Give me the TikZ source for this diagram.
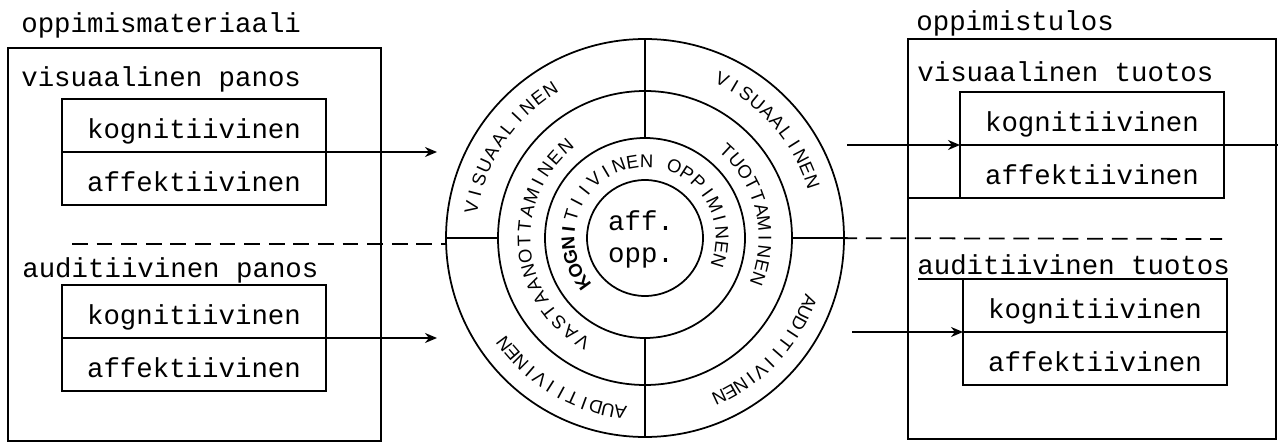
\documentclass[tikz,border=0pt]{standalone}
\usepackage{fontspec}
\usepackage{tikz}
\usetikzlibrary{arrows.meta,calc,positioning}
\newfontfamily\typew{Liberation Mono}
\newfontfamily\ringfam{Liberation Sans}
% letters set round (O), read clockwise, tops outward:
% first angle, angle step, radius, letters
\newcommand{\ringword}[4]{%
  \foreach \ch [count=\i from 0] in {#4}
    \node[ringch,rotate=#1-\i*#2-90] at ($(O)+(#1-\i*#2:#3)$) {\ch};}
\tikzset{
  frame/.style={draw,line width=1.1pt},
  cell/.style={frame,outer sep=0pt,inner sep=0pt,minimum width=5.28cm,minimum height=1.06cm,
    text height=15pt,text depth=0pt,font=\typew\fontsize{15.6}{18}\selectfont},
  head/.style={anchor=base west,inner sep=0pt,font=\typew\fontsize{15.6}{18}\selectfont},
  ringch/.style={inner sep=0pt,font=\ringfam\fontsize{10.5}{12}\selectfont},
  ring/.style={line width=1pt},
  flow/.style={line width=1pt,-{Stealth[length=2.4mm,width=2mm]}},
  sep/.style={line width=1pt,dash pattern=on 9pt off 5pt},
}
\begin{document}
\begin{tikzpicture}[x=0.02cm,y=0.02cm]
  \useasboundingbox (0,0) rectangle (1278,-442);
  % learning material (left)
  \node[frame,anchor=north west,minimum width=7.46cm,minimum height=7.86cm] (matBox) at (7,-47) {};
  \node[head] (matTitle) at (21,-33) {oppimismateriaali};
  \node[head] (visIn) at (21,-87) {visuaalinen panos};
  \node[head] (audIn) at (22,-277) {auditiivinen panos};
  \node[cell,anchor=south west] (kogVI) at (62,-152) {kognitiivinen};
  \node[cell,below=0pt of kogVI] (affVI) {affektiivinen};
  \node[cell,anchor=south west] (kogAI) at (62,-338) {kognitiivinen};
  \node[cell,below=0pt of kogAI] (affAI) {affektiivinen};
  % learning result (right)
  \node[frame,anchor=north west,minimum width=7.36cm,minimum height=8cm] (resBox) at (907,-38) {};
  \node[head] (resTitle) at (916,-31) {oppimistulos};
  \node[head] (visOut) at (917,-82) {visuaalinen tuotos};
  \node[head] (audOut) at (917,-275) {auditiivinen tuotos};
  \node[cell,anchor=south west] (kogVO) at (960,-145) {kognitiivinen};
  \node[cell,below=0pt of kogVO] (affVO) {affektiivinen};
  \node[cell,anchor=south west] (kogAO) at (963,-332) {kognitiivinen};
  \node[cell,below=0pt of kogAO] (affAO) {affektiivinen};
  \coordinate (edgeR) at (1278,-145);
  \coordinate (lineAO) at (918,-279);
  \draw[frame] (kogVO.south east) -- (edgeR);
  \draw[frame] (affVO.south west) -- (resBox.west |- affVO.south);
  \draw[frame] (kogAO.north west) -- (lineAO);
  % the rings
  \coordinate (O) at (645,-238);
  \foreach \r in {199,147,100,58}
    \draw[ring] (O) circle[radius=\r];
  \draw[ring] ($(O)+(90:100)$) -- ($(O)+(90:199)$);
  \draw[ring] ($(O)+(270:100)$) -- ($(O)+(270:199)$);
  \draw[ring] ($(O)+(180:147)$) -- ($(O)+(180:199)$);
  \draw[ring] ($(O)+(0:147)$) -- ($(O)+(0:199)$);
  \ringword{170}{4.75}{176}{V,I,S,U,A,A,L,I,N,E,N}
  \ringword{64}{4.55}{176}{V,I,S,U,A,A,L,I,N,E,N}
  \ringword{-21}{4}{176}{A,U,D,I,T,I,I,V,I,N,E,N}
  \ringword{262}{4.1}{176}{A,U,D,I,T,I,I,V,I,N,E,N}
  \ringword{239}{7.2}{121}{V,A,S,T,A,A,N,O,T,T,A,M,I,N,E,N}
  \ringword{47}{6.7}{120}{T,U,O,T,T,A,M,I,N,E,N}
  \ringword{216}{10.6}{77}{\bfseries K,\bfseries O,\bfseries G,\bfseries N,\bfseries I,T,I,I,V,I,N,E,N,{},O,P,P,I,M,I,N,E,N}
  \node[font=\typew\fontsize{15.6}{18.2}\selectfont,align=center,inner sep=0pt] (affOpp) at (641,-239) {aff.\\opp.};
  % separator between visual and auditive
  \coordinate (sepL) at (72,-244);
  \coordinate (sepR) at (1222,-239);
  \draw[sep] (sepL) -- ++(374,0);
  \draw[sep] ($(O)+(0:147)$) -- (sepR);
  % arrows into and out of the rings
  \coordinate (visInEnd) at (437,-152);
  \coordinate (audInEnd) at (437,-338);
  \coordinate (visOutStart) at (847,-145);
  \coordinate (audOutStart) at (852,-332);
  \draw[flow] (kogVI.south east) -- (visInEnd);
  \draw[flow] (kogAI.south east) -- (audInEnd);
  \draw[flow] (visOutStart) -- (kogVO.south west);
  \draw[flow] (audOutStart) -- (kogAO.south west);
\end{tikzpicture}
\end{document}
